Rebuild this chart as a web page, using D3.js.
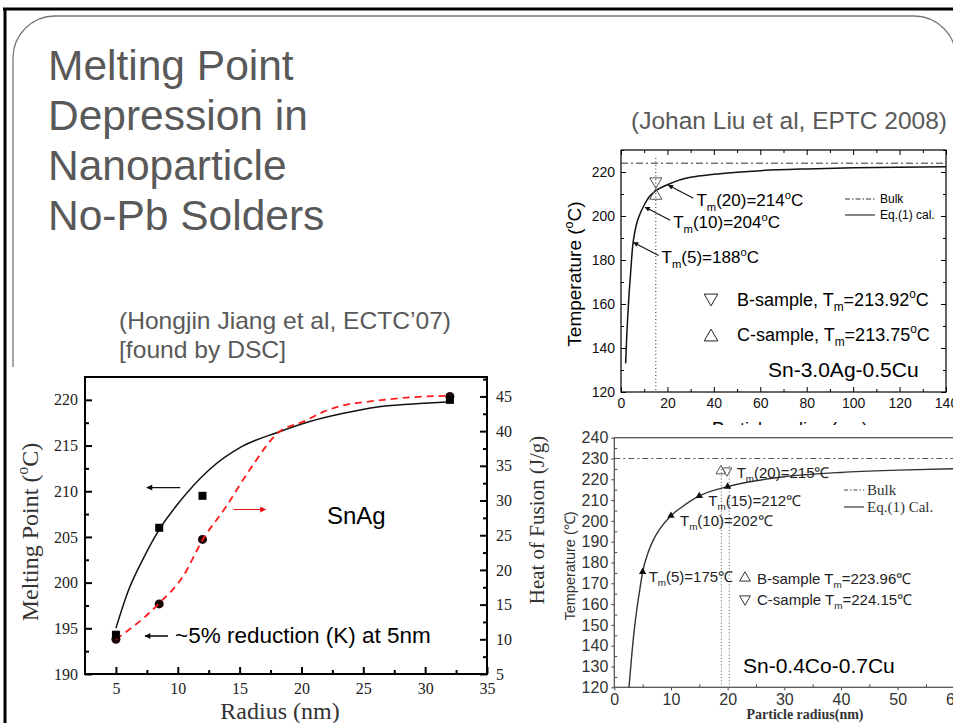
<!DOCTYPE html>
<html>
<head>
<meta charset="utf-8">
<script src="https://cdn.jsdelivr.net/npm/d3@7"></script>
<style>
  body { margin: 0; background: #fff; }
  svg { display: block; }
</style>
</head>
<body>
<div id="slide"></div>
<script>
// ---------- data ----------
const titleLines = ['Melting Point', 'Depression in', 'Nanoparticle', 'No-Pb Solders']
const liuCite = '(Johan Liu et al, EPTC 2008)'
const jiangCite = ['(Hongjin Jiang et al, ECTC\u201907)', '[found by DSC]']

// SnAg (Jiang): measured points
const jiangRadius = [5, 8.5, 12, 32]
const jiangMelt = [194.3, 206, 209.5, 220]
const jiangHeat = [10, 15.1, 24.4, 45]
// fitted melting point curve
const jiangFitR = [5, 6, 7.2, 8.5, 10, 12.5, 15.2, 18, 20.6, 23.3, 26, 29, 32]
const jiangFitMelt = [195, 199.1, 202.6, 205.8, 208.6, 212.3, 214.9, 216.4, 217.6, 218.5, 219.2, 219.55, 219.8]
// fitted heat of fusion curve
const jiangHeatR = [5, 6, 7.2, 8.5, 10.4, 12, 13.9, 15.8, 18.2, 20.2, 21.8, 23.6, 25.2, 29.1, 32]
const jiangHeatFit = [10, 11.3, 13, 15.2, 19, 24.3, 29.1, 34.4, 39.9, 41.4, 42.8, 43.8, 44.2, 44.9, 45.1]
const jiangXTicks = [5, 10, 15, 20, 25, 30, 35]
const jiangYTicks = [190, 195, 200, 205, 210, 215, 220]
const jiangY2Ticks = [5, 10, 15, 20, 25, 30, 35, 40, 45]

// Sn-3.0Ag-0.5Cu (Liu)
const liuR = [2, 2.5, 3, 3.5, 4, 5, 6, 7, 8, 10, 12, 15, 20, 25, 30, 40, 50, 60, 80, 100, 120, 140]
const liuT = [133, 146, 156, 165, 172, 186, 193, 197.5, 200.5, 205, 208.5, 211.5, 214.2, 216.3, 217.6, 219, 219.9, 220.6, 221.4, 221.9, 222.2, 222.4]
const liuBulk = 224
const liuSampleR = 15
const liuSamples = [
  { name: 'B-sample', tm: 213.92, shape: 'down' },
  { name: 'C-sample', tm: 213.75, shape: 'up' }
]
const liuNotes = [
  { r: 5, t: 188, label: '(5)=188' },
  { r: 10, t: 204, label: '(10)=204' },
  { r: 20, t: 214, label: '(20)=214' }
]
const liuXTicks = [0, 20, 40, 60, 80, 100, 120, 140]
const liuYTicks = [120, 140, 160, 180, 200, 220]

// Sn-0.4Co-0.7Cu
const scR = [2.6, 3, 3.5, 4, 4.5, 5, 6, 7, 8, 10, 12, 15, 20, 25, 30, 40, 50, 60]
const scT = [120, 133, 147, 158, 167, 175.5, 185, 191.5, 196, 202.5, 206.8, 212, 216.5, 219.3, 221.2, 223.3, 224.4, 225.1]
const scBulk = 230
const scMarkR = [5, 10, 15, 20]
const scMarkT = [175.5, 202.5, 212, 216.5]
const scMarkLabel = ['(5)=175\u2103', '(10)=202\u2103', '(15)=212\u2103', '(20)=215\u2103']
const scSamples = [
  { name: 'B-sample', tm: 223.96, r: 18.8, shape: 'up' },
  { name: 'C-sample', tm: 224.15, r: 19.9, shape: 'down' }
]
const scDotR = [18.9, 20.3]
const scXTicks = [0, 10, 20, 30, 40, 50, 60]
const scYTicks = [120, 130, 140, 150, 160, 170, 180, 190, 200, 210, 220, 230, 240]

// ---------- setup ----------
const sans = "'Liberation Sans', Arial, sans-serif"
const serif = "'Liberation Serif', 'Times New Roman', serif"
const W = 953, H = 723

const svg = d3.select('#slide').append('svg').attr('width', W).attr('height', H)
svg.append('rect').attr('width', W).attr('height', H).attr('fill', '#fff')

const defs = svg.append('defs')
function marker(id, color, w, h) {
  defs.append('marker')
    .attr('id', id)
    .attr('viewBox', '0 0 10 10')
    .attr('refX', 9).attr('refY', 5)
    .attr('markerWidth', w).attr('markerHeight', h)
    .attr('markerUnits', 'userSpaceOnUse')
    .attr('orient', 'auto')
    .append('path')
    .attr('d', 'M0,0L10,5L0,10Z')
    .attr('fill', color)
}
marker('arrBlack', '#111', 9, 6)
marker('arrRed', '#e81010', 9, 6)
marker('arrSmall', '#111', 8, 5)

// text with sub / superscripts
function rich(text, parts, fs) {
  let cur = 0
  parts.forEach(p => {
    let want = p.s === 'sub' ? 0.28 * fs : p.s === 'sup' ? -0.42 * fs : 0
    let ts = text.append('tspan').text(p.t)
    if (want !== cur) ts.attr('dy', want - cur)
    if (p.s) ts.attr('font-size', fs * 0.66)
    cur = want
  })
  return text
}

function addAxis(parent, orient, scale, values, size, labels, transform, st) {
  let fn = { left: d3.axisLeft, right: d3.axisRight, top: d3.axisTop, bottom: d3.axisBottom }[orient]
  let gen = fn(scale)
    .tickValues(values)
    .tickSizeInner(size)
    .tickSizeOuter(0)
    .tickPadding(st.pad)
    .tickFormat(labels ? d3.format('d') : () => '')
  let g = parent.append('g').attr('transform', transform).call(gen)
  g.select('.domain').remove()
  g.attr('font-family', st.font).attr('font-size', st.size)
  g.selectAll('line').attr('stroke', st.color).attr('stroke-width', st.width)
  g.selectAll('text').attr('fill', st.textColor)
  return g
}

function tri(shape, size) {
  return d3.symbol(d3.symbolTriangle, size)()
}

// ---------- slide frame + titles ----------
svg.append('rect')
  .attr('x', 13).attr('y', 16)
  .attr('width', 943).attr('height', 900)
  .attr('rx', 42)
  .attr('fill', 'none')
  .attr('stroke', '#777')
  .attr('stroke-width', 1.3)

svg.append('line').attr('x1', 3).attr('x2', W).attr('y1', 9).attr('y2', 9)
  .attr('stroke', '#000').attr('stroke-width', 3)
svg.append('line').attr('x1', 5).attr('x2', 5).attr('y1', 8).attr('y2', H)
  .attr('stroke', '#000').attr('stroke-width', 3)

svg.selectAll('.title')
  .data(titleLines)
  .enter()
  .append('text')
  .attr('class', 'title')
  .attr('x', 48)
  .attr('y', (d, i) => 80 + i * 50)
  .attr('font-family', sans)
  .attr('font-size', 42.5)
  .attr('fill', '#595959')
  .text(d => d)

svg.append('text')
  .attr('x', 947).attr('y', 129)
  .attr('text-anchor', 'end')
  .attr('font-family', sans)
  .attr('font-size', 24.5)
  .attr('fill', '#595959')
  .text(liuCite)

svg.selectAll('.cite')
  .data(jiangCite)
  .enter()
  .append('text')
  .attr('class', 'cite')
  .attr('x', 119)
  .attr('y', (d, i) => 329 + i * 29)
  .attr('font-family', sans)
  .attr('font-size', 24)
  .attr('fill', '#595959')
  .attr('textLength', (d, i) => (i === 0 ? 332 : 167))
  .attr('lengthAdjust', 'spacingAndGlyphs')
  .text(d => d)

// ---------- chart 1: SnAg ----------
{
  const g = svg.append('g')
  g.append('rect').attr('x', 10).attr('y', 367).attr('width', 480).attr('height', 356).attr('fill', '#fff')

  const L = 85, R = 487, T = 377, B = 674
  const x = d3.scaleLinear().domain([2.5, 35]).range([L, R])
  const y = d3.scaleLinear().domain([190, 222.5]).range([B, T])
  const y2 = d3.scaleLinear().domain([5, 47.8]).range([B, T])
  const st = { font: serif, size: 16, color: '#000', width: 2, textColor: '#222', pad: 7 }

  const minor = (a, b, s) => d3.range(a, b + 0.01, s)
  addAxis(g, 'bottom', x, jiangXTicks, -7, true, `translate(0,${B})`, { ...st, pad: 9 })
  addAxis(g, 'bottom', x, minor(7.5, 32.5, 5), -4, false, `translate(0,${B})`, st)
  addAxis(g, 'left', y, jiangYTicks, -7, true, `translate(${L},0)`, st)
  addAxis(g, 'left', y, minor(192.5, 217.5, 5), -4, false, `translate(${L},0)`, st)
  addAxis(g, 'right', y2, jiangY2Ticks, -7, true, `translate(${R},0)`, { ...st, pad: 9 })
  addAxis(g, 'right', y2, minor(7.5, 47.5, 5), -4, false, `translate(${R},0)`, st)

  g.append('rect')
    .attr('x', L).attr('y', T).attr('width', R - L).attr('height', B - T)
    .attr('fill', 'none').attr('stroke', '#000').attr('stroke-width', 2)

  const lineMelt = d3.line().x(d => x(d[0])).y(d => y(d[1])).curve(d3.curveMonotoneX)
  const lineHeat = d3.line().x(d => x(d[0])).y(d => y2(d[1])).curve(d3.curveMonotoneX)

  g.append('path')
    .datum(d3.zip(jiangFitR, jiangFitMelt))
    .attr('d', lineMelt)
    .attr('fill', 'none').attr('stroke', '#111').attr('stroke-width', 1.5)

  g.selectAll('.heatpt')
    .data(d3.zip(jiangRadius, jiangHeat))
    .enter()
    .append('circle')
    .attr('class', 'heatpt')
    .attr('cx', d => x(d[0])).attr('cy', d => y2(d[1]))
    .attr('r', 4.5)
    .attr('fill', '#1a0606')

  g.append('path')
    .datum(d3.zip(jiangHeatR, jiangHeatFit))
    .attr('d', lineHeat)
    .attr('fill', 'none').attr('stroke', '#ff1a1a').attr('stroke-width', 1.8)
    .attr('stroke-dasharray', '7,5')

  g.selectAll('.meltpt')
    .data(d3.zip(jiangRadius, jiangMelt))
    .enter()
    .append('rect')
    .attr('class', 'meltpt')
    .attr('x', d => x(d[0]) - 4).attr('y', d => y(d[1]) - 4)
    .attr('width', 8).attr('height', 8)
    .attr('fill', '#000')

  // axis pointer arrows
  g.append('line')
    .attr('x1', x(10.2)).attr('x2', x(7.5)).attr('y1', y(210.4)).attr('y2', y(210.4))
    .attr('stroke', '#111').attr('stroke-width', 1.2)
    .attr('marker-end', 'url(#arrBlack)')
  g.append('line')
    .attr('x1', x(14.5)).attr('x2', x(17.1)).attr('y1', y(208)).attr('y2', y(208))
    .attr('stroke', '#e81010').attr('stroke-width', 1.2)
    .attr('marker-end', 'url(#arrRed)')

  g.append('text')
    .attr('x', 327).attr('y', 524)
    .attr('font-family', sans).attr('font-size', 24).attr('fill', '#000')
    .text('SnAg')

  g.append('line')
    .attr('x1', 168).attr('x2', 145).attr('y1', 636).attr('y2', 636)
    .attr('stroke', '#000').attr('stroke-width', 1.5)
    .attr('marker-end', 'url(#arrBlack)')
  g.append('text')
    .attr('x', 175).attr('y', 643)
    .attr('font-family', sans).attr('font-size', 22.5).attr('fill', '#000')
    .text('~5% reduction (K) at 5nm')

  rich(g.append('text')
    .attr('transform', 'translate(38,532) rotate(-90)')
    .attr('text-anchor', 'middle')
    .attr('font-family', serif).attr('font-size', 24).attr('fill', '#333'),
    [{ t: 'Melting Point (' }, { t: 'o', s: 'sup' }, { t: 'C)' }], 24)

  g.append('text')
    .attr('x', (L + R) / 2 - 6).attr('y', 719)
    .attr('text-anchor', 'middle')
    .attr('font-family', serif).attr('font-size', 24).attr('fill', '#333')
    .text('Radius (nm)')

  g.append('text')
    .attr('transform', 'translate(544,520) rotate(-90)')
    .attr('text-anchor', 'middle')
    .attr('font-family', serif).attr('font-size', 21).attr('fill', '#333')
    .text('Heat of Fusion (J/g)')
}

// ---------- chart 2: Sn-3.0Ag-0.5Cu ----------
{
  const g = svg.append('g')
  g.append('rect').attr('x', 563).attr('y', 145).attr('width', 390).attr('height', 280).attr('fill', '#fff')

  const L = 621, R = 946, T = 150, B = 392
  const x = d3.scaleLinear().domain([0, 140]).range([L, R])
  const y = d3.scaleLinear().domain([120, 230]).range([B, T])
  const st = { font: sans, size: 14, color: '#000', width: 1, textColor: '#111', pad: 6 }

  addAxis(g, 'bottom', x, liuXTicks, -5, true, `translate(0,${B})`, st)
  addAxis(g, 'bottom', x, d3.range(10, 140, 20), -3, false, `translate(0,${B})`, st)
  addAxis(g, 'top', x, liuXTicks, -5, false, `translate(0,${T})`, st)
  addAxis(g, 'top', x, d3.range(10, 140, 20), -3, false, `translate(0,${T})`, st)
  addAxis(g, 'left', y, liuYTicks, -5, true, `translate(${L},0)`, st)
  addAxis(g, 'left', y, d3.range(130, 231, 20), -3, false, `translate(${L},0)`, st)
  addAxis(g, 'right', y, liuYTicks, -5, false, `translate(${R},0)`, st)
  addAxis(g, 'right', y, d3.range(130, 231, 20), -3, false, `translate(${R},0)`, st)

  g.append('rect')
    .attr('x', L).attr('y', T).attr('width', R - L).attr('height', B - T)
    .attr('fill', 'none').attr('stroke', '#000').attr('stroke-width', 1.2)

  g.append('line')
    .attr('x1', L).attr('x2', R).attr('y1', y(liuBulk)).attr('y2', y(liuBulk))
    .attr('stroke', '#333').attr('stroke-width', 1).attr('stroke-dasharray', '7,3,2,3')

  g.append('line')
    .attr('x1', x(liuSampleR)).attr('x2', x(liuSampleR)).attr('y1', y(230) + 8).attr('y2', B)
    .attr('stroke', '#222').attr('stroke-width', 1).attr('stroke-dasharray', '1,2.5')

  g.append('path')
    .datum(d3.zip(liuR, liuT))
    .attr('d', d3.line().x(d => x(d[0])).y(d => y(d[1])).curve(d3.curveMonotoneX))
    .attr('fill', 'none').attr('stroke', '#111').attr('stroke-width', 1.5)

  // hourglass sample markers (apexes meet at the value)
  g.selectAll('.samp')
    .data(liuSamples)
    .enter()
    .append('path')
    .attr('class', 'samp')
    .attr('d', tri('up', 64))
    .attr('transform', d => d.shape === 'down'
      ? `translate(${x(liuSampleR)},${y(d.tm) + 3 - 7}) rotate(180)`
      : `translate(${x(liuSampleR)},${y(d.tm) + 3 + 7})`)
    .attr('fill', 'none').attr('stroke', '#555').attr('stroke-width', 1)

  // T_m annotations with pointer arrows
  liuNotes.forEach(n => {
    let px = x(n.r) + 1, py = y(n.t)
    g.append('line')
      .attr('x1', px + 25).attr('y1', py + 13).attr('x2', px).attr('y2', py)
      .attr('stroke', '#111').attr('stroke-width', 1.1)
      .attr('marker-end', 'url(#arrSmall)')
    rich(g.append('text')
      .attr('x', px + 28).attr('y', py + 21)
      .attr('font-family', sans).attr('font-size', 17).attr('fill', '#000'),
      [{ t: 'T' }, { t: 'm', s: 'sub' }, { t: n.label }, { t: 'o', s: 'sup' }, { t: 'C' }], 17)
  })

  // legend
  g.append('line').attr('x1', 845).attr('x2', 875).attr('y1', 199).attr('y2', 199)
    .attr('stroke', '#333').attr('stroke-dasharray', '5,2,1.5,2')
  g.append('text').attr('x', 880).attr('y', 203).attr('font-family', sans).attr('font-size', 12).text('Bulk')
  g.append('line').attr('x1', 845).attr('x2', 875).attr('y1', 215).attr('y2', 215)
    .attr('stroke', '#333').attr('stroke-width', 1.2)
  g.append('text').attr('x', 880).attr('y', 219).attr('font-family', sans).attr('font-size', 12).text('Eq.(1) cal.')

  liuSamples.forEach((s, i) => {
    let ly = 300 + i * 35
    g.append('path')
      .attr('d', tri(s.shape, 80))
      .attr('transform', s.shape === 'down' ? `translate(711,${ly - 2}) rotate(180)` : `translate(711,${ly + 2})`)
      .attr('fill', 'none').attr('stroke', '#222').attr('stroke-width', 1)
    rich(g.append('text')
      .attr('x', 737).attr('y', ly + 6)
      .attr('font-family', sans).attr('font-size', 18).attr('fill', '#000'),
      [{ t: s.name + ', T' }, { t: 'm', s: 'sub' }, { t: '=' + s.tm.toFixed(2) }, { t: 'o', s: 'sup' }, { t: 'C' }], 18)
  })

  g.append('text')
    .attr('x', 768).attr('y', 377)
    .attr('font-family', sans).attr('font-size', 21).attr('fill', '#000')
    .text('Sn-3.0Ag-0.5Cu')

  rich(g.append('text')
    .attr('transform', 'translate(581,274) rotate(-90)')
    .attr('text-anchor', 'middle')
    .attr('font-family', sans).attr('font-size', 19).attr('fill', '#000'),
    [{ t: 'Temperature (' }, { t: 'o', s: 'sup' }, { t: 'C)' }], 19)

  g.append('text')
    .attr('x', 790).attr('y', 435)
    .attr('text-anchor', 'middle')
    .attr('font-family', sans).attr('font-size', 18).attr('fill', '#000')
    .text('Particle radius (nm)')
}

// ---------- chart 3: Sn-0.4Co-0.7Cu ----------
{
  const g = svg.append('g')
  g.append('rect').attr('x', 557).attr('y', 425).attr('width', 396).attr('height', 298).attr('fill', '#fff')

  const L = 614.3, R = 954.3, T = 437.7, B = 687.3
  const x = d3.scaleLinear().domain([0, 60]).range([L, R])
  const y = d3.scaleLinear().domain([120, 240]).range([B, T])
  const st = { font: sans, size: 16, color: '#444', width: 1, textColor: '#333', pad: 3 }

  addAxis(g, 'bottom', x, scXTicks, 3, true, `translate(0,${B})`, st)
  addAxis(g, 'bottom', x, d3.range(5, 60, 10), -3, false, `translate(0,${B})`, st)
  addAxis(g, 'left', y, scYTicks, 3, true, `translate(${L},0)`, st)
  addAxis(g, 'left', y, d3.range(125, 240, 10), -3, false, `translate(${L},0)`, st)

  g.append('rect')
    .attr('x', L).attr('y', T).attr('width', R - L).attr('height', B - T)
    .attr('fill', 'none').attr('stroke', '#555').attr('stroke-width', 1.3)

  g.append('line')
    .attr('x1', L).attr('x2', R).attr('y1', y(scBulk)).attr('y2', y(scBulk))
    .attr('stroke', '#555').attr('stroke-width', 1).attr('stroke-dasharray', '6,3,2,3')

  g.selectAll('.dot')
    .data(scDotR)
    .enter()
    .append('line')
    .attr('x1', d => x(d)).attr('x2', d => x(d))
    .attr('y1', y(226.5)).attr('y2', B)
    .attr('stroke', '#888').attr('stroke-width', 1.2).attr('stroke-dasharray', '1.2,2')

  g.append('path')
    .datum(d3.zip(scR, scT))
    .attr('d', d3.line().x(d => x(d[0])).y(d => y(d[1])).curve(d3.curveMonotoneX))
    .attr('fill', 'none').attr('stroke', '#333').attr('stroke-width', 1.4)

  g.selectAll('.mk')
    .data(d3.zip(scMarkR, scMarkT))
    .enter()
    .append('path')
    .attr('class', 'mk')
    .attr('d', tri('up', 24))
    .attr('transform', d => `translate(${x(d[0])},${y(d[1])})`)
    .attr('fill', '#111')

  scMarkR.forEach((r, i) => {
    let up = i === 3
    rich(g.append('text')
      .attr('x', x(r) + (i === 0 ? 6 : 9))
      .attr('y', y(scMarkT[i]) + (up ? -9 : 10))
      .attr('font-family', sans).attr('font-size', 15).attr('fill', '#222'),
      [{ t: 'T' }, { t: 'm', s: 'sub' }, { t: scMarkLabel[i] }], 15)
  })

  scSamples.forEach(s => {
    g.append('path')
      .attr('d', tri(s.shape, 40))
      .attr('transform', s.shape === 'down'
        ? `translate(${x(s.r)},${y(s.tm)}) rotate(180)`
        : `translate(${x(s.r)},${y(s.tm)})`)
      .attr('fill', 'none').attr('stroke', '#555').attr('stroke-width', 1)
  })

  // legend
  g.append('line').attr('x1', 844).attr('x2', 864).attr('y1', 490).attr('y2', 490)
    .attr('stroke', '#444').attr('stroke-dasharray', '4,2,1.5,2')
  g.append('text').attr('x', 867).attr('y', 495).attr('font-family', serif).attr('font-size', 15).attr('fill', '#333').text('Bulk')
  g.append('line').attr('x1', 844).attr('x2', 864).attr('y1', 507).attr('y2', 507)
    .attr('stroke', '#444').attr('stroke-width', 1.3)
  g.append('text').attr('x', 867).attr('y', 512).attr('font-family', serif).attr('font-size', 15).attr('fill', '#333').text('Eq.(1) Cal.')

  scSamples.forEach((s, i) => {
    let ly = 578 + i * 21
    g.append('path')
      .attr('d', tri(s.shape, 50))
      .attr('transform', s.shape === 'down' ? `translate(745,${ly}) rotate(180)` : `translate(745,${ly})`)
      .attr('fill', 'none').attr('stroke', '#333').attr('stroke-width', 1)
    rich(g.append('text')
      .attr('x', 757).attr('y', ly + 5.5)
      .attr('font-family', sans).attr('font-size', 15).attr('fill', '#222'),
      [{ t: s.name + ' T' }, { t: 'm', s: 'sub' }, { t: '=' + s.tm.toFixed(2) + '\u2103' }], 15)
  })

  g.append('text')
    .attr('x', 743).attr('y', 673)
    .attr('font-family', sans).attr('font-size', 21).attr('fill', '#000')
    .text('Sn-0.4Co-0.7Cu')

  g.append('text')
    .attr('transform', 'translate(575,566) rotate(-90)')
    .attr('text-anchor', 'middle')
    .attr('font-family', sans).attr('font-size', 14.5).attr('fill', '#333')
    .text('Temperature (\u2103)')

  g.append('text')
    .attr('x', 805).attr('y', 719)
    .attr('text-anchor', 'middle')
    .attr('font-family', serif).attr('font-weight', 'bold').attr('font-size', 14).attr('fill', '#333')
    .text('Particle radius(nm)')
}
</script>
</body>
</html>
